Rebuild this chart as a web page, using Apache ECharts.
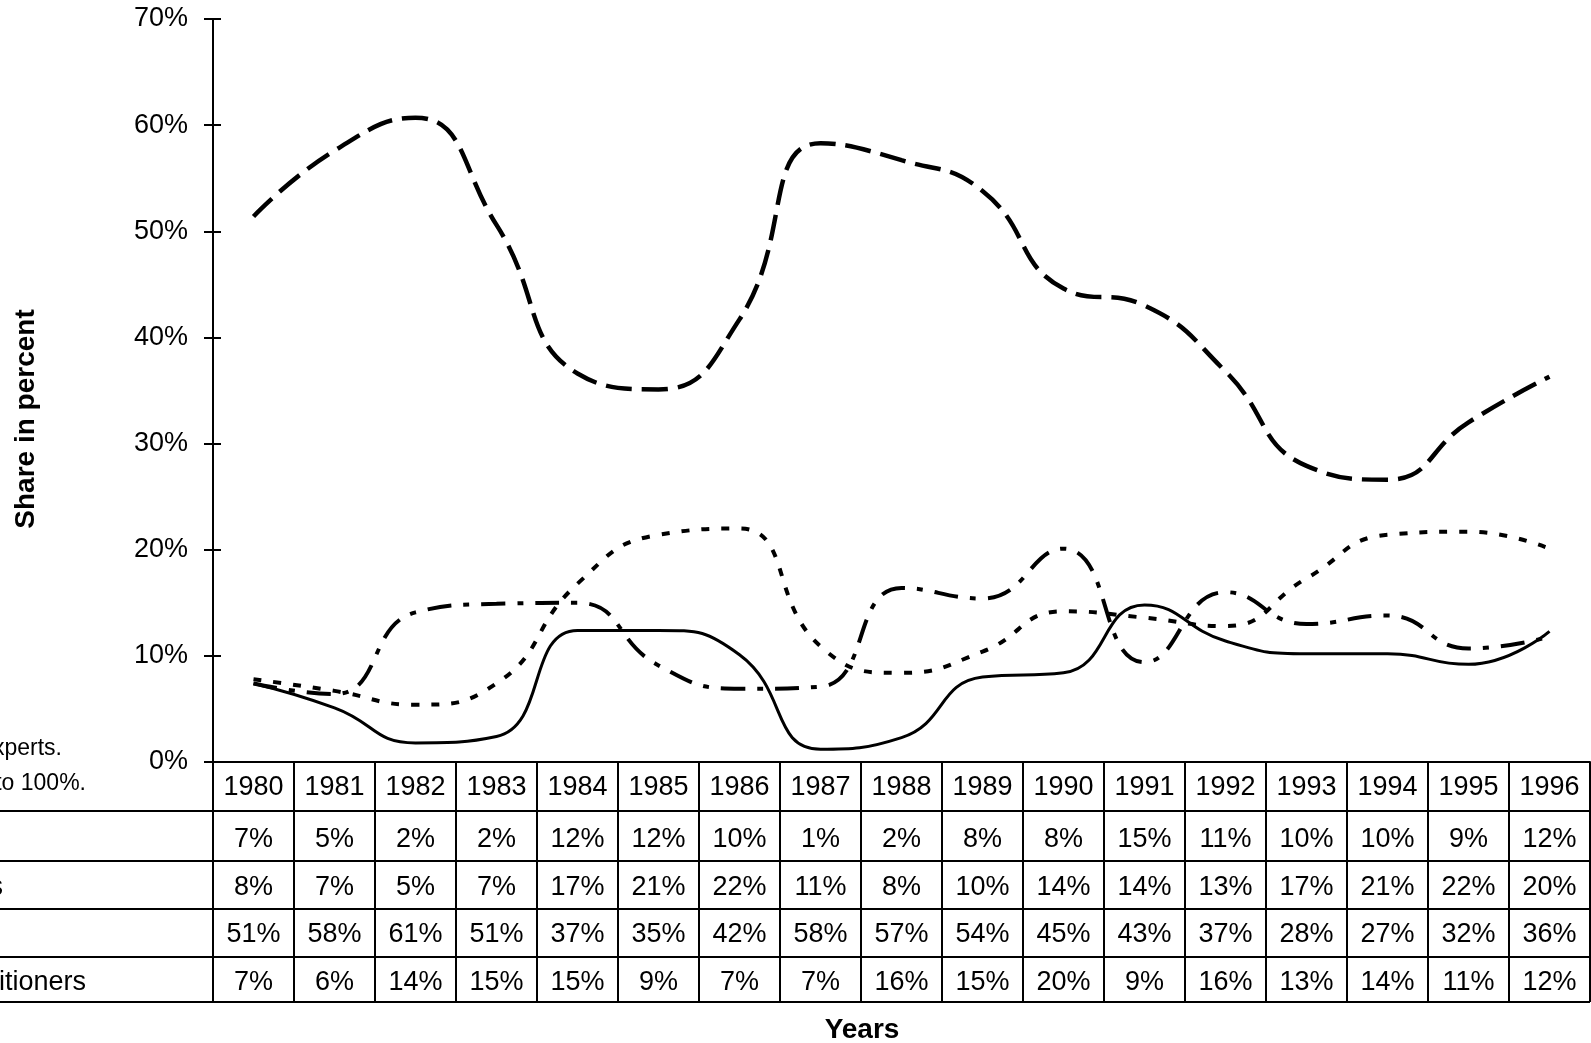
<!DOCTYPE html>
<html>
<head>
<meta charset="utf-8">
<script src="https://cdn.jsdelivr.net/npm/echarts@6/dist/echarts.min.js"></script>
<style>
html,body{margin:0;padding:0;background:#fff;overflow:hidden}
#c{width:1591px;height:1043px}
</style>
</head>
<body>
<div id="c"></div>
<script>
// ---- data ----
const years = ['1980','1981','1982','1983','1984','1985','1986','1987','1988','1989','1990','1991','1992','1993','1994','1995','1996'];
// row 1 – solid line
const row1 = [7.4, 5.1, 1.8, 2.4, 12.4, 12.4, 10.1, 1.2, 2.3, 8.0, 8.4, 14.8, 11.4, 10.2, 10.2, 9.2, 12.3];
// row 2 – dotted line
const row2 = [7.8, 6.7, 5.4, 7.4, 16.8, 21.4, 22.0, 10.9, 8.4, 10.4, 14.2, 13.6, 12.8, 17.3, 21.4, 21.7, 20.1];
// row 3 – long dash line
const row3 = [51.4, 57.6, 60.7, 50.6, 36.6, 35.1, 41.7, 58.3, 56.7, 53.8, 44.6, 43.0, 36.8, 27.9, 26.6, 32.0, 36.3];
// row 4 – dash-dot line
const row4 = [7.4, 6.4, 14.1, 14.9, 15.0, 9.1, 6.9, 7.1, 16.4, 15.4, 20.1, 9.4, 16.0, 13.0, 13.8, 10.7, 11.8];
const yTicks = {min: 0, max: 70, step: 10};
const rowLabelTails = ['', 's', '', 'Practitioners'];
const noteLines = ['experts.', 'to 100%.'];
const yTitle = 'Share in percent';
const xTitle = 'Years';

// ---- chart ----
const FONT = '"Liberation Sans", Arial, Helvetica, sans-serif';
const BLACK = '#000';
const TABLE_FS = 27;
const chart = echarts.init(document.getElementById('c'), null, {renderer: 'canvas'});

function rowAxis(values, margin) {
  return {
    type: 'category', data: years, gridIndex: 0, position: 'bottom', boundaryGap: true,
    axisLine: {show: false}, axisTick: {show: false}, splitLine: {show: false},
    axisLabel: {
      interval: 0, margin: margin, verticalAlign: 'middle',
      fontFamily: FONT, fontSize: TABLE_FS, color: BLACK,
      formatter: function (v, i) { return Math.round(values[i]) + '%'; }
    }
  };
}

const rowYs = [811, 861, 909, 957, 1002];
const graphics = [];
rowYs.forEach(function (y) {
  graphics.push({type: 'line', shape: {x1: -10, y1: y, x2: 1590, y2: y},
    style: {stroke: BLACK, lineWidth: 2}, silent: true});
});
const labelCenters = [840, 888, 934.5, 983];
const labelRight = [-8, 3, -8, 86];
rowLabelTails.forEach(function (t, i) {
  if (!t) return;
  graphics.push({type: 'text', x: labelRight[i], y: labelCenters[i],
    style: {text: t, font: TABLE_FS + 'px ' + FONT, fill: BLACK, align: 'right', verticalAlign: 'middle'}});
});
graphics.push({type: 'text', x: 62, y: 749,
  style: {text: noteLines[0], font: '23px ' + FONT, fill: BLACK, align: 'right', verticalAlign: 'middle'}});
graphics.push({type: 'text', x: 86, y: 784,
  style: {text: noteLines[1], font: '23px ' + FONT, fill: BLACK, align: 'right', verticalAlign: 'middle'}});
graphics.push({type: 'text', x: 26, y: 419, rotation: Math.PI / 2,
  style: {text: yTitle, font: 'bold 28px ' + FONT, fill: BLACK, align: 'center', verticalAlign: 'middle'}});
graphics.push({type: 'text', x: 862, y: 1030,
  style: {text: xTitle, font: 'bold 28px ' + FONT, fill: BLACK, align: 'center', verticalAlign: 'middle'}});

const option = {
  animation: false,
  backgroundColor: '#fff',
  grid: {left: 213, right: 1, top: 19, bottom: 281, containLabel: false},
  xAxis: [
    {
      type: 'category', data: years, gridIndex: 0, position: 'bottom', boundaryGap: true,
      axisLine: {show: true, lineStyle: {color: BLACK, width: 2}},
      axisTick: {show: true, interval: 0, alignWithLabel: false, length: 240, lineStyle: {color: BLACK, width: 2}},
      splitLine: {show: false},
      axisLabel: {interval: 0, margin: 26, verticalAlign: 'middle', fontFamily: FONT, fontSize: TABLE_FS, color: BLACK}
    },
    rowAxis(row1, 78),
    rowAxis(row2, 126),
    rowAxis(row3, 172.5),
    rowAxis(row4, 221)
  ],
  yAxis: [
    {
      type: 'value', min: yTicks.min, max: yTicks.max, interval: yTicks.step, position: 'left',
      axisLine: {show: true, lineStyle: {color: BLACK, width: 2}},
      axisTick: {show: true, length: 9, lineStyle: {color: BLACK, width: 2}},
      splitLine: {show: false},
      axisLabel: {margin: 25, formatter: '{value}%', fontFamily: FONT, fontSize: 27, color: BLACK}
    },
    {
      type: 'value', min: yTicks.min, max: yTicks.max, interval: yTicks.step, position: 'left',
      axisLine: {show: false},
      axisTick: {show: true, inside: true, length: 8, lineStyle: {color: BLACK, width: 2}},
      splitLine: {show: false},
      axisLabel: {show: false}
    }
  ],
  series: [
    {type: 'line', data: row1, smooth: true, symbol: 'none', xAxisIndex: 0, yAxisIndex: 0,
      lineStyle: {color: BLACK, width: 3, type: 'solid'}},
    {type: 'line', data: row2, smooth: true, symbol: 'none', xAxisIndex: 0, yAxisIndex: 0,
      lineStyle: {color: BLACK, width: 4, type: [8, 12], cap: 'butt'}},
    {type: 'line', data: row3, smooth: true, symbol: 'none', xAxisIndex: 0, yAxisIndex: 0,
      lineStyle: {color: BLACK, width: 4.5, type: [26, 10], cap: 'butt'}},
    {type: 'line', data: row4, smooth: true, symbol: 'none', xAxisIndex: 0, yAxisIndex: 0,
      lineStyle: {color: BLACK, width: 4, type: [24, 12, 6, 12], cap: 'butt'}}
  ],
  graphic: graphics
};
chart.setOption(option);
</script>
</body>
</html>
